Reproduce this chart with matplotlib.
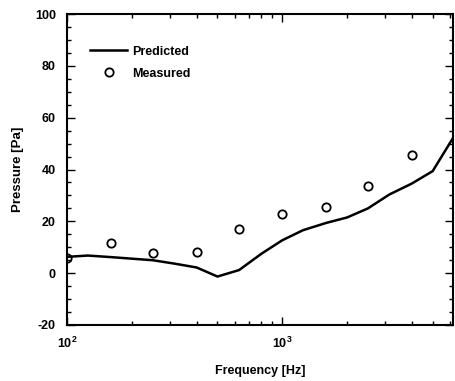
import matplotlib
matplotlib.use("Agg")
import matplotlib.pyplot as plt
from matplotlib.ticker import MultipleLocator, LogLocator, NullFormatter

plt.rcParams['font.family'] = ['Liberation Sans', 'DejaVu Sans']
plt.rcParams['font.weight'] = 'bold'
plt.rcParams['axes.unicode_minus'] = False

# predicted curve
pred_f = [100, 125, 160, 200, 250, 315, 400, 500, 630, 800, 1000, 1250, 1600, 2000, 2500, 3150, 4000, 5000, 6300]
pred_p = [6.3, 6.8, 6.2, 5.6, 5.0, 3.7, 2.2, -1.3, 1.2, 7.5, 12.7, 16.6, 19.4, 21.5, 25.0, 30.4, 34.6, 39.4, 53.0]

# measured points
meas_f = [100, 160, 250, 400, 630, 1000, 1600, 2500, 4000]
meas_p = [6.0, 11.8, 7.7, 8.0, 17.1, 23.0, 25.6, 33.6, 45.8]

fig = plt.figure(figsize=(4.56, 3.81), dpi=100)
ax = fig.add_axes([0.147, 0.147, 0.846, 0.816])

ax.plot(pred_f, pred_p, color='black', lw=1.8, label='Predicted')
ax.plot(meas_f, meas_p, 'o', mfc='none', mec='black', mew=1.3, ms=6, label='Measured')

ax.set_xscale('log')
ax.set_xlim(100, 6200)
ax.set_ylim(-20, 100)
ax.yaxis.set_major_locator(MultipleLocator(20))
ax.yaxis.set_minor_locator(MultipleLocator(5))
ax.xaxis.set_major_locator(LogLocator(base=10))
ax.xaxis.set_minor_locator(LogLocator(base=10, subs=range(2, 10)))
ax.xaxis.set_minor_formatter(NullFormatter())

ax.tick_params(which='both', direction='in', top=True, right=True, labelsize=9)
ax.tick_params(which='major', length=6, width=1)
ax.tick_params(which='minor', length=3, width=1)
ax.tick_params(axis='x', pad=8)
ax.tick_params(axis='y', pad=8)
for s in ax.spines.values():
    s.set_linewidth(1.5)

ax.set_xlabel('Frequency [Hz]', fontsize=9, fontweight='bold', labelpad=10)
ax.set_ylabel('Pressure [Pa]', fontsize=9.5, fontweight='bold', labelpad=8)

leg = ax.legend(loc='upper left', bbox_to_anchor=(0.03, 0.935), frameon=False,
                fontsize=9, handlelength=3.0, handletextpad=0.4, labelspacing=0.8)

fig.savefig('out.png', dpi=100)
